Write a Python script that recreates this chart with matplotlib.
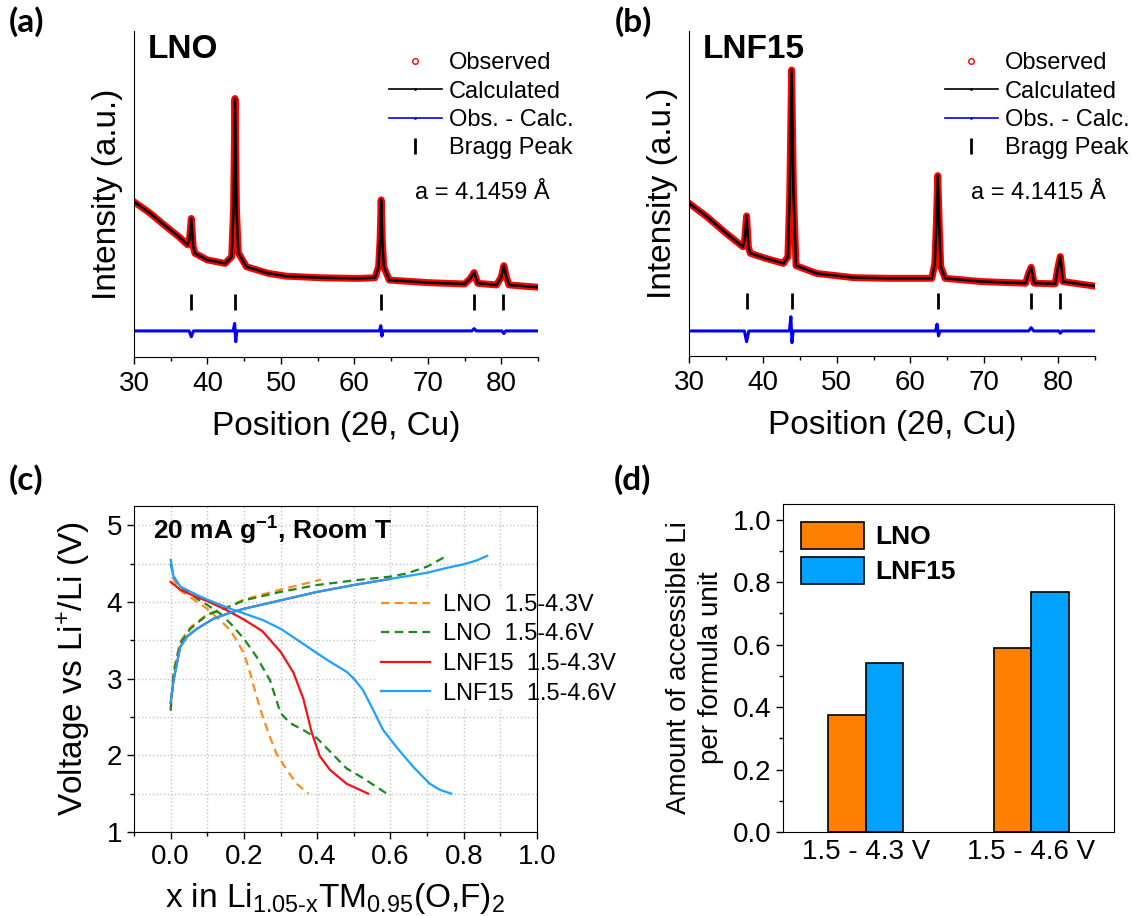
import numpy as np
import matplotlib.pyplot as plt
from matplotlib.lines import Line2D
from matplotlib.ticker import MultipleLocator

plt.rcParams['font.family'] = ['Liberation Sans', 'DejaVu Sans']
plt.rcParams['mathtext.fontset'] = 'custom'
plt.rcParams['mathtext.rm'] = 'Liberation Sans'
plt.rcParams['mathtext.it'] = 'Liberation Sans:italic'
plt.rcParams['mathtext.bf'] = 'Liberation Sans:bold'

# ---------------- (a) LNO XRD, intensity in arbitrary units ----------------
tt_a = [30.0, 32.2, 34.1, 36.1, 37.3, 37.55, 37.8, 38.05, 38.3, 39.95, 42.4, 43.3, 43.55, 43.75,
        43.95, 44.2, 45.3, 48.2, 50.7, 55.5, 60.4, 62.8, 63.3, 63.5, 63.65, 63.8, 64.0, 64.75,
        70.1, 75.0, 75.8, 76.3, 76.8, 79.35, 80.0, 80.35, 80.7, 81.05, 85.0]
int_a = [47.6, 44.1, 40.5, 36.9, 34.4, 36.0, 42.5, 34.0, 31.8, 29.8, 28.7, 30.8, 45.0, 79.3,
         45.0, 32.0, 27.7, 25.7, 24.8, 24.3, 24.1, 24.3, 27.7, 36.0, 48.2, 36.0, 27.7, 23.6,
         22.8, 22.4, 24.1, 25.9, 22.6, 22.1, 24.5, 28.0, 24.5, 22.1, 21.4]
dtt_a = [30, 37.5, 37.8, 38.1, 43.5, 43.7, 43.85, 44.0, 63.4, 63.6, 63.75, 63.9,
         76.0, 76.3, 76.6, 80.1, 80.35, 80.6, 85]
diff_a = [8.0, 8.0, 6.2, 8.0, 8.0, 10.3, 4.7, 8.0, 8.0, 9.6, 6.4, 8.0,
          8.0, 8.7, 8.0, 8.0, 7.2, 8.0, 8.0]
bragg_a = [37.8, 43.8, 63.6, 76.3, 80.3]

# ---------------- (b) LNF15 XRD ----------------
tt_b = [30.0, 32.4, 34.8, 37.3, 37.55, 37.8, 38.05, 38.3, 40.3, 42.8, 43.4, 43.65, 43.9,
        44.15, 44.5, 47.3, 52.3, 57.2, 62.9, 63.3, 63.5, 63.7, 63.9, 64.1, 64.7, 69.6,
        75.6, 76.0, 76.35, 76.75, 79.6, 80.0, 80.3, 80.65, 85.0]
int_b = [47.0, 42.9, 38.2, 33.6, 36.0, 43.1, 33.5, 31.6, 30.1, 28.5, 30.6, 50.0, 88.0,
         50.0, 27.8, 25.4, 24.1, 23.9, 23.9, 28.5, 40.0, 55.5, 40.0, 27.5, 23.9, 22.9,
         22.4, 25.4, 27.3, 22.4, 22.2, 27.5, 30.6, 22.9, 21.5]
dtt_b = [30, 37.5, 37.8, 38.1, 43.6, 43.8, 43.95, 44.1, 63.4, 63.6, 63.8, 64.0,
         76.0, 76.35, 76.7, 80.1, 80.3, 80.55, 85]
diff_b = [7.7, 7.7, 4.4, 7.7, 7.7, 12.1, 4.1, 7.7, 7.7, 9.8, 6.2, 7.7,
          7.7, 8.7, 7.7, 7.7, 7.0, 7.7, 7.7]
bragg_b = [37.8, 43.9, 63.7, 76.35, 80.3]

# ---------------- (c) voltage profiles ----------------
lno43_chg_x = [0.0, 0.008, 0.026, 0.054, 0.1, 0.163, 0.2, 0.3, 0.41]
lno43_chg_v = [2.6, 3.1, 3.48, 3.67, 3.84, 3.95, 4.03, 4.16, 4.29]
lno43_dis_x = [0.005, 0.026, 0.072, 0.1, 0.135, 0.163, 0.18, 0.2, 0.217, 0.235, 0.253,
               0.271, 0.289, 0.317, 0.344, 0.376]
lno43_dis_v = [4.32, 4.15, 4.0, 3.91, 3.76, 3.63, 3.5, 3.33, 3.07, 2.76, 2.48,
               2.24, 2.02, 1.81, 1.63, 1.5]
lno46_chg_x = [0.0, 0.008, 0.026, 0.054, 0.1, 0.163, 0.2, 0.3, 0.4, 0.5, 0.6, 0.644, 0.7, 0.75]
lno46_chg_v = [2.58, 3.07, 3.46, 3.65, 3.83, 3.94, 4.02, 4.13, 4.22, 4.28, 4.33, 4.37, 4.46, 4.59]
lno46_dis_x = [0.0, 0.008, 0.026, 0.072, 0.1, 0.135, 0.163, 0.2, 0.235, 0.271, 0.3, 0.326,
               0.362, 0.4, 0.435, 0.48, 0.526, 0.59]
lno46_dis_v = [4.5, 4.33, 4.2, 4.04, 3.96, 3.85, 3.72, 3.52, 3.28, 2.98, 2.55, 2.42,
               2.33, 2.22, 2.05, 1.83, 1.70, 1.5]
lnf43_chg_x = [0.0, 0.008, 0.026, 0.045, 0.072, 0.117, 0.163, 0.2, 0.3, 0.4, 0.5, 0.6]
lnf43_chg_v = [2.68, 2.98, 3.41, 3.55, 3.65, 3.78, 3.86, 3.91, 4.02, 4.13, 4.22, 4.30]
lnf43_dis_x = [0.0, 0.026, 0.072, 0.1, 0.15, 0.2, 0.25, 0.3, 0.335, 0.362, 0.385, 0.407,
               0.435, 0.48, 0.539]
lnf43_dis_v = [4.26, 4.16, 4.06, 4.01, 3.9, 3.77, 3.62, 3.35, 3.08, 2.74, 2.3, 1.99,
               1.81, 1.63, 1.5]
lnf46_chg_x = [0.0, 0.008, 0.026, 0.045, 0.072, 0.117, 0.163, 0.2, 0.3, 0.4, 0.5, 0.6,
               0.7, 0.76, 0.8, 0.835, 0.864]
lnf46_chg_v = [2.68, 2.98, 3.41, 3.55, 3.65, 3.78, 3.86, 3.91, 4.02, 4.13, 4.22, 4.30,
               4.38, 4.45, 4.49, 4.54, 4.6]
lnf46_dis_x = [0.0, 0.008, 0.026, 0.072, 0.1, 0.163, 0.2, 0.253, 0.3, 0.344, 0.4, 0.435,
               0.48, 0.5, 0.525, 0.553, 0.58, 0.616, 0.662, 0.707, 0.735, 0.766]
lnf46_dis_v = [4.55, 4.33, 4.2, 4.09, 4.03, 3.91, 3.85, 3.76, 3.65, 3.51, 3.33, 3.22,
               3.09, 3.0, 2.85, 2.59, 2.33, 2.11, 1.85, 1.63, 1.55, 1.5]

# ---------------- (d) accessible Li ----------------
windows = ['1.5 - 4.3 V', '1.5 - 4.6 V']
li_lno = [0.375, 0.588]
li_lnf15 = [0.54, 0.768]

W, H = 1135, 916
fig = plt.figure(figsize=(W / 100, H / 100), dpi=100)


def box(l, r, t, b):
    return [l / W, 1 - b / H, (r - l) / W, (b - t) / H]


def xrd(ax, tt, inten, dtt, diff, bragg, name, latt):
    # observed band (red) with the calculated profile on top
    ax.plot(tt, inten, color='red', lw=5, solid_joinstyle='round', zorder=2)
    ax.plot(tt, inten, color='black', lw=1.8, zorder=3)
    ax.plot(dtt, diff, color='blue', lw=2.2, zorder=2)
    ax.plot(bragg, [17] * len(bragg), ls='none', marker='|', ms=12, mew=2, color='black')
    ax.set_xlim(30, 85)
    ax.set_ylim(0, 100)
    ax.spines['top'].set_visible(False)
    ax.spines['right'].set_visible(False)
    ax.set_yticks([])
    ax.xaxis.set_major_locator(MultipleLocator(10))
    ax.xaxis.set_minor_locator(MultipleLocator(5))
    ax.tick_params(axis='x', which='major', direction='out', length=5, width=1,
                   labelsize=20, pad=5)
    ax.tick_params(axis='x', which='minor', direction='out', length=3, width=1)
    ax.set_xlabel('Position (2θ, Cu)', fontsize=24, labelpad=10)
    ax.set_ylabel('Intensity (a.u.)', fontsize=24, labelpad=8)
    ax.text(0.033, 0.99, name, transform=ax.transAxes, fontsize=24,
            fontweight='bold', va='top')
    ax.text(0.695, 0.503, latt, transform=ax.transAxes, fontsize=17, va='center')
    hs = [Line2D([], [], ls='none', marker='o', mfc='none', mec='red', ms=4, mew=1),
          Line2D([], [], color='black', lw=1.2, marker='.', ms=2),
          Line2D([], [], color='blue', lw=1.2, marker='.', ms=2),
          Line2D([], [], ls='none', marker='|', ms=11, mew=2, color='black')]
    ax.legend(hs, ['Observed', 'Calculated', 'Obs. - Calc.', 'Bragg Peak'],
              loc='upper left', bbox_to_anchor=(0.63, 0.935), frameon=False, fontsize=17,
              handlelength=2.25, handletextpad=0.3, labelspacing=0.27,
              borderpad=0, borderaxespad=0)


ax_a = fig.add_axes(box(134, 538, 31, 357))
xrd(ax_a, tt_a, int_a, dtt_a, diff_a, bragg_a, 'LNO', 'a = 4.1459 Å')
ax_b = fig.add_axes(box(689, 1095, 31, 356))
xrd(ax_b, tt_b, int_b, dtt_b, diff_b, bragg_b, 'LNF15', 'a = 4.1415 Å')

# ---------------- panel (c) ----------------
ax_c = fig.add_axes(box(134, 537, 506, 832))
dash = (3.8, 2.4)
series = [
    (lno43_chg_x, lno43_chg_v, lno43_dis_x, lno43_dis_v, '#FF8C1A', True, 'LNO  1.5-4.3V'),
    (lno46_chg_x, lno46_chg_v, lno46_dis_x, lno46_dis_v, '#1A8A1A', True, 'LNO  1.5-4.6V'),
    (lnf43_chg_x, lnf43_chg_v, lnf43_dis_x, lnf43_dis_v, '#F01414', False, 'LNF15  1.5-4.3V'),
    (lnf46_chg_x, lnf46_chg_v, lnf46_dis_x, lnf46_dis_v, '#1EA0FF', False, 'LNF15  1.5-4.6V'),
]
for cx, cv, dx, dv, col, dashed, lab in series:
    kw = dict(color=col, lw=1.6, zorder=3)
    if dashed:
        kw['dashes'] = dash
    ax_c.plot(cx, cv, label=lab, **kw)
    ax_c.plot(dx, dv, **kw)
ax_c.set_xlim(-0.1, 1.0)
ax_c.set_ylim(1, 5.25)
ax_c.xaxis.set_major_locator(MultipleLocator(0.2))
ax_c.xaxis.set_minor_locator(MultipleLocator(0.1))
ax_c.yaxis.set_major_locator(MultipleLocator(1))
ax_c.yaxis.set_minor_locator(MultipleLocator(0.5))
ax_c.xaxis.set_major_formatter(plt.FormatStrFormatter('%.1f'))
ax_c.grid(which='both', color='#c4c4c4', ls=':', lw=1.0)
ax_c.set_axisbelow(True)
ax_c.tick_params(which='major', direction='out', length=5, width=1, labelsize=20)
ax_c.tick_params(which='minor', direction='out', length=3, width=1)
ax_c.set_xlabel(r'x in Li$_{\mathregular{1.05\text{-}x}}$TM$_{\mathregular{0.95}}$(O,F)$_{\mathregular{2}}$',
                fontsize=24, labelpad=8)
ax_c.set_ylabel(r'Voltage vs Li$^{\mathregular{+}}$/Li (V)', fontsize=24, labelpad=10)
ax_c.text(0.047, 0.923, r'20 mA g$^{\mathbf{-1}}$, Room T', transform=ax_c.transAxes,
          fontsize=19, fontweight='bold', va='center')
leg_c = ax_c.legend(loc='upper left', bbox_to_anchor=(0.60, 0.745), fontsize=17, frameon=True,
                    facecolor='white', edgecolor='none', framealpha=1, fancybox=False,
                    handlelength=2.1, handletextpad=0.55, labelspacing=0.32, borderpad=0.2,
                    borderaxespad=0)
leg_c.set_zorder(2)

# ---------------- panel (d) ----------------
ax_d = fig.add_axes(box(783, 1114, 504, 832))
xpos = np.arange(len(windows))
bw = 0.226
ax_d.bar(xpos - bw / 2, li_lno, bw, color='#FF8000', edgecolor='black', lw=1.2, label='LNO')
ax_d.bar(xpos + bw / 2, li_lnf15, bw, color='#00A2FF', edgecolor='black', lw=1.2, label='LNF15')
ax_d.set_xlim(-0.5, 1.5)
ax_d.set_ylim(0, 1.05)
ax_d.set_xticks(xpos, windows)
ax_d.yaxis.set_major_locator(MultipleLocator(0.2))
ax_d.yaxis.set_minor_locator(MultipleLocator(0.1))
ax_d.yaxis.set_major_formatter(plt.FormatStrFormatter('%.1f'))
ax_d.tick_params(axis='x', length=0, labelsize=20, pad=5)
ax_d.tick_params(axis='y', which='major', direction='out', length=5, width=1, labelsize=20)
ax_d.tick_params(axis='y', which='minor', direction='out', length=3, width=1)
ax_d.set_ylabel('Amount of accessible Li\nper formula unit', fontsize=20, linespacing=1.3,
                labelpad=6)
ax_d.legend(loc='upper left', bbox_to_anchor=(0.054, 0.945), frameon=False,
            prop={'weight': 'bold', 'size': 19}, handlelength=2.4, handleheight=1.17,
            handletextpad=0.4, labelspacing=0.3, borderpad=0, borderaxespad=0)

# panel letters
for lx, ly, letter in [(9, 6, '(a)'), (615, 6, '(b)'), (9, 464, '(c)'), (614, 464, '(d)')]:
    fig.text(lx / W, 1 - ly / H, letter, fontsize=24, fontweight='bold',
             family=['Lato', 'DejaVu Sans'], va='top')

fig.savefig('out.png', dpi=100)
